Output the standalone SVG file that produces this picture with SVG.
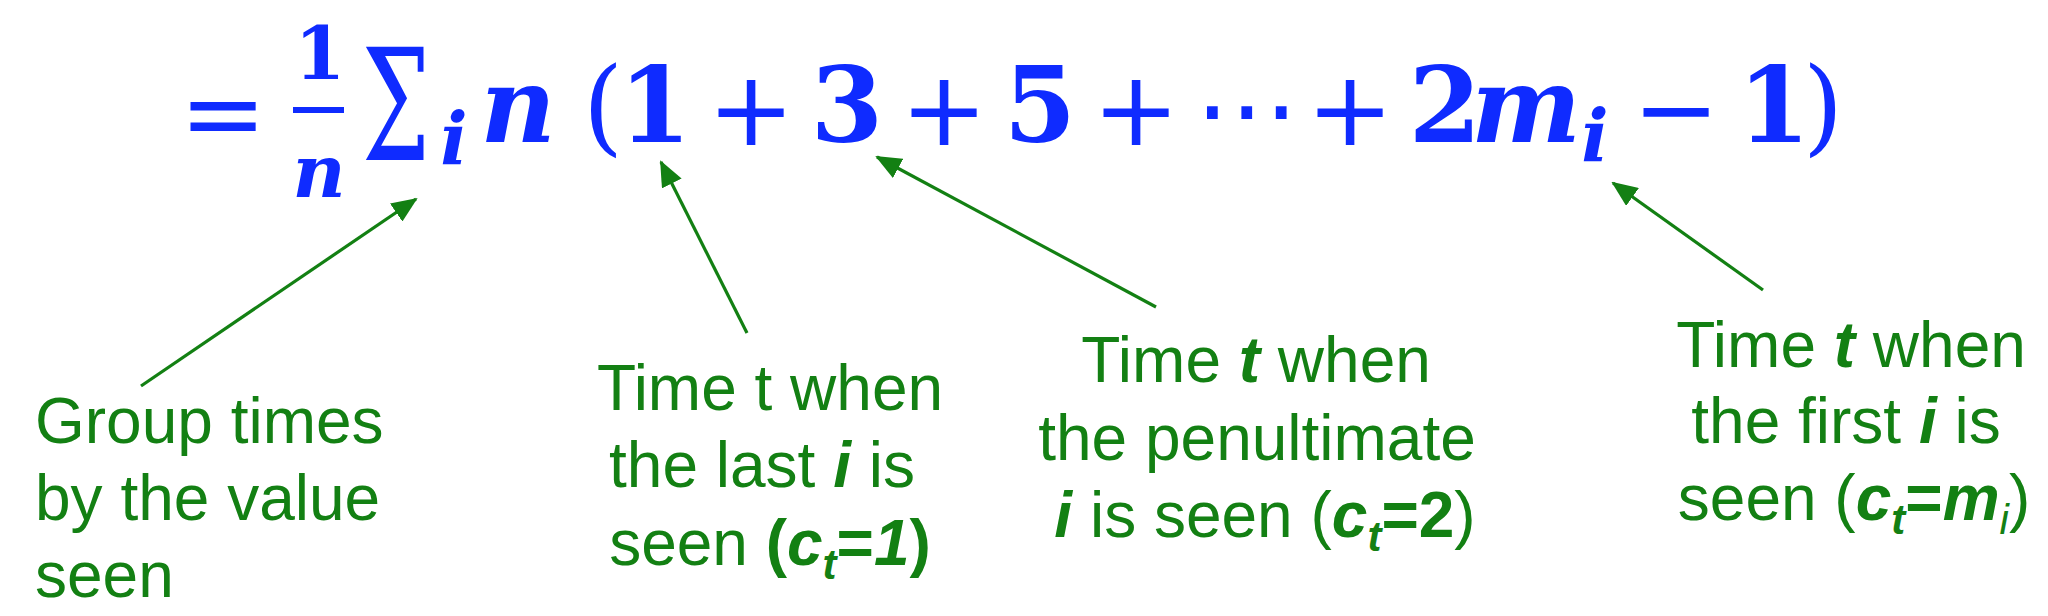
<svg xmlns="http://www.w3.org/2000/svg" width="2048" height="616" viewBox="0 0 2048 616">
<style>
.f{font-family:"DejaVu Serif","Liberation Serif",serif;fill:#0F2BFF;text-anchor:middle}
.b{font-weight:bold}
.bi{font-weight:bold;font-style:italic}
.op{font-family:"DejaVu Sans","Liberation Sans",sans-serif;font-weight:normal}
.big{font-size:104px}
.sm{font-size:72px}
.lbl{font-family:"Liberation Sans",Arial,sans-serif;font-size:64px;fill:#138013}
.mid{text-anchor:middle}
.it{font-weight:bold;font-style:italic}
.sub{font-size:42px}
.conn{stroke:#138013;stroke-width:3.2;fill:none}
</style>
<defs>
<marker id="ah" markerUnits="userSpaceOnUse" markerWidth="26" markerHeight="22" viewBox="0 0 26 22" refX="24" refY="11" orient="auto">
<path d="M0,0 L26,11 L0,22 z" fill="#138013"/>
</marker>
</defs>
<rect width="2048" height="616" fill="#fff"/>
<g id="formula">
<text class="f op big" x="223" y="149">=</text>
<text class="f b" style="font-size:73px" x="320" y="79">1</text>
<rect x="293" y="107" width="51" height="6" fill="#0F2BFF"/>
<text class="f bi" style="font-size:73px" x="319" y="197">n</text>
<text class="f" style="font-size:155px;text-anchor:start" x="362" y="160" textLength="68" lengthAdjust="spacingAndGlyphs">Σ</text>
<text class="f bi sm" x="454" y="165">i</text>
<text class="f bi big" x="518" y="142">n</text>
<text class="f big" x="603" y="142">(</text>
<text class="f b big" x="655" y="142">1</text>
<text class="f op big" x="751" y="145">+</text>
<text class="f b big" x="847" y="142">3</text>
<text class="f op big" x="944" y="145">+</text>
<text class="f b big" x="1040" y="142">5</text>
<text class="f op big" x="1136" y="145">+</text>
<text class="f op big" x="1247" y="145">⋯</text>
<text class="f op big" x="1350" y="145">+</text>
<text class="f b big" x="1445" y="142">2</text>
<text class="f bi big" x="1526" y="142">m</text>
<text class="f bi sm" x="1595" y="162">i</text>
<text class="f op big" x="1676" y="145">−</text>
<text class="f b big" x="1774" y="142">1</text>
<text class="f big" x="1823" y="142">)</text>
</g>
<g id="connectors">
<line class="conn" x1="141" y1="386" x2="416" y2="199" marker-end="url(#ah)"/>
<line class="conn" x1="747" y1="333" x2="661" y2="162" marker-end="url(#ah)"/>
<line class="conn" x1="1156" y1="307" x2="877" y2="157" marker-end="url(#ah)"/>
<line class="conn" x1="1763" y1="290" x2="1613" y2="183" marker-end="url(#ah)"/>
</g>
<g id="label-group">
<text class="lbl" x="35" y="443">Group times</text>
<text class="lbl" x="35" y="520">by the value</text>
<text class="lbl" x="35" y="597">seen</text>
</g>
<g id="label-last">
<text class="lbl mid" x="770" y="410">Time t when</text>
<text class="lbl mid" x="762" y="487">the last <tspan class="it">i</tspan> is</text>
<text class="lbl mid" x="770" y="565">seen <tspan font-weight="bold">(</tspan><tspan class="it">c</tspan><tspan class="it sub" dy="14">t</tspan><tspan font-weight="bold" dy="-14">=</tspan><tspan class="it">1</tspan><tspan font-weight="bold">)</tspan></text>
</g>
<g id="label-penultimate">
<text class="lbl mid" x="1256" y="382">Time <tspan class="it">t</tspan> when</text>
<text class="lbl mid" x="1257" y="460">the penultimate</text>
<text class="lbl mid" x="1265" y="537"><tspan class="it">i</tspan> is seen (<tspan class="it">c</tspan><tspan class="it sub" dy="14">t</tspan><tspan font-weight="bold" dy="-14">=2</tspan>)</text>
</g>
<g id="label-first">
<text class="lbl mid" x="1851" y="367">Time <tspan class="it">t</tspan> when</text>
<text class="lbl mid" x="1846" y="443">the first <tspan class="it">i</tspan> is</text>
<text class="lbl mid" x="1854" y="520">seen (<tspan class="it">c</tspan><tspan class="it sub" dy="14">t</tspan><tspan font-weight="bold" dy="-14">=</tspan><tspan class="it">m</tspan><tspan class="sub" font-style="italic" dy="14">i</tspan><tspan dy="-14">)</tspan></text>
</g>
</svg>
